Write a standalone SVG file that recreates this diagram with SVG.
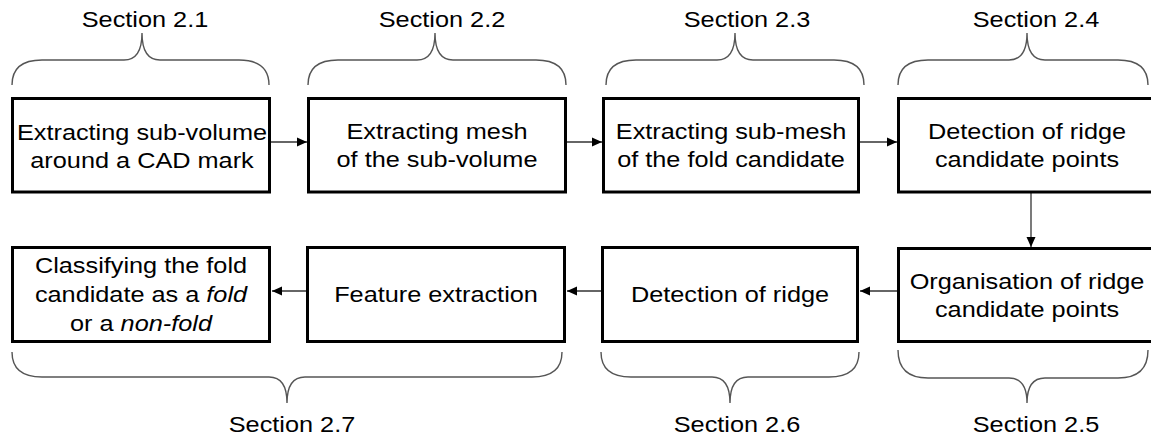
<svg xmlns="http://www.w3.org/2000/svg" width="1151" height="437" viewBox="0 0 1151 437">
<style>
.box{fill:#fff;stroke:#000;stroke-width:3}
.t{font-family:"Liberation Sans",Arial,sans-serif;font-size:22px;fill:#000;text-anchor:middle}
.brace{fill:none;stroke:#555;stroke-width:1.4}
.conn{fill:none;stroke:#333;stroke-width:1.3;marker-end:url(#ah)}
</style>
<defs>
<marker id="ah" markerUnits="userSpaceOnUse" markerWidth="11" markerHeight="10" refX="10" refY="5" orient="auto">
<path d="M0,0.5 L10,5 L0,9.5 z" fill="#000"/>
</marker>
</defs>
<rect width="1151" height="437" fill="#fff"/>

<g id="braces">
<path class="brace" d="M12,85 Q12,60 42,60 L124,60 Q142,60 142,33 Q142,60 160,60 L239,60 Q269,60 269,85"/>
<path class="brace" d="M308,85 Q308,60 338,60 L417,60 Q435,60 435,33 Q435,60 453,60 L536,60 Q566,60 566,85"/>
<path class="brace" d="M606,85 Q606,60 636,60 L717,60 Q735,60 735,33 Q735,60 753,60 L834,60 Q864,60 864,85"/>
<path class="brace" d="M898,85 Q898,60 928,60 L1009,60 Q1027,60 1027,33 Q1027,60 1045,60 L1118,60 Q1148,60 1148,85"/>
<path class="brace" d="M12,352 Q12,377 42,377 L269,377 Q287,377 287,403 Q287,377 305,377 L532,377 Q562,377 562,352"/>
<path class="brace" d="M601,352 Q601,377 631,377 L712,377 Q730,377 730,403 Q730,377 748,377 L829,377 Q859,377 859,352"/>
<path class="brace" d="M898,350 Q898,378 928,378 L1009,378 Q1027,378 1027,403 Q1027,378 1045,378 L1118,378 Q1148,378 1148,350"/>
</g>

<g id="labels">
<g transform="translate(145,0) scale(1.15,1)"><text class="t" x="0" y="27">Section 2.1</text></g>
<g transform="translate(442,0) scale(1.15,1)"><text class="t" x="0" y="27">Section 2.2</text></g>
<g transform="translate(747,0) scale(1.15,1)"><text class="t" x="0" y="27">Section 2.3</text></g>
<g transform="translate(1036,0) scale(1.15,1)"><text class="t" x="0" y="27">Section 2.4</text></g>
<g transform="translate(292,0) scale(1.15,1)"><text class="t" x="0" y="432">Section 2.7</text></g>
<g transform="translate(737,0) scale(1.15,1)"><text class="t" x="0" y="432">Section 2.6</text></g>
<g transform="translate(1036,0) scale(1.15,1)"><text class="t" x="0" y="432">Section 2.5</text></g>
</g>

<g id="connectors">
<line class="conn" x1="270" y1="142" x2="307" y2="142"/>
<line class="conn" x1="567" y1="142" x2="602" y2="142"/>
<line class="conn" x1="860" y1="142" x2="897" y2="142"/>
<line class="conn" x1="1031" y1="193" x2="1031" y2="247"/>
<line class="conn" x1="897" y1="291" x2="860" y2="291"/>
<line class="conn" x1="601" y1="291" x2="567" y2="291"/>
<line class="conn" x1="306" y1="291" x2="272" y2="291"/>
</g>

<g id="n1">
<rect class="box" x="12.5" y="98.5" width="257" height="93.5"/>
<g transform="translate(142,0) scale(1.15,1)"><text class="t" x="0" y="140">Extracting sub-volume</text><text class="t" x="0" y="168">around a CAD mark</text></g>
</g>
<g id="n2">
<rect class="box" x="308.5" y="98.5" width="257" height="93.5"/>
<g transform="translate(437,0) scale(1.15,1)"><text class="t" x="0" y="139">Extracting mesh</text><text class="t" x="0" y="167">of the sub-volume</text></g>
</g>
<g id="n3">
<rect class="box" x="603.5" y="98.5" width="255" height="93.5"/>
<g transform="translate(731,0) scale(1.15,1)"><text class="t" x="0" y="139">Extracting sub-mesh</text><text class="t" x="0" y="167">of the fold candidate</text></g>
</g>
<g id="n4">
<rect class="box" x="898.5" y="98.5" width="260" height="93.5"/>
<g transform="translate(1027,0) scale(1.15,1)"><text class="t" x="0" y="139">Detection of ridge</text><text class="t" x="0" y="167">candidate points</text></g>
</g>
<g id="n5">
<rect class="box" x="898.5" y="248.5" width="260" height="93"/>
<g transform="translate(1027,0) scale(1.15,1)"><text class="t" x="0" y="289">Organisation of ridge</text><text class="t" x="0" y="317">candidate points</text></g>
</g>
<g id="n6">
<rect class="box" x="602.5" y="247.5" width="255" height="94"/>
<g transform="translate(730,0) scale(1.15,1)"><text class="t" x="0" y="302">Detection of ridge</text></g>
</g>
<g id="n7">
<rect class="box" x="307.5" y="247.5" width="257" height="94"/>
<g transform="translate(436,0) scale(1.15,1)"><text class="t" x="0" y="302">Feature extraction</text></g>
</g>
<g id="n8">
<rect class="box" x="12.5" y="247.5" width="257" height="94"/>
<g transform="translate(141,0) scale(1.15,1)"><text class="t" x="0" y="273">Classifying the fold</text><text class="t" x="0" y="302">candidate as a <tspan font-style="italic">fold</tspan></text><text class="t" x="0" y="331">or a <tspan font-style="italic">non-fold</tspan></text></g>
</g>
</svg>
